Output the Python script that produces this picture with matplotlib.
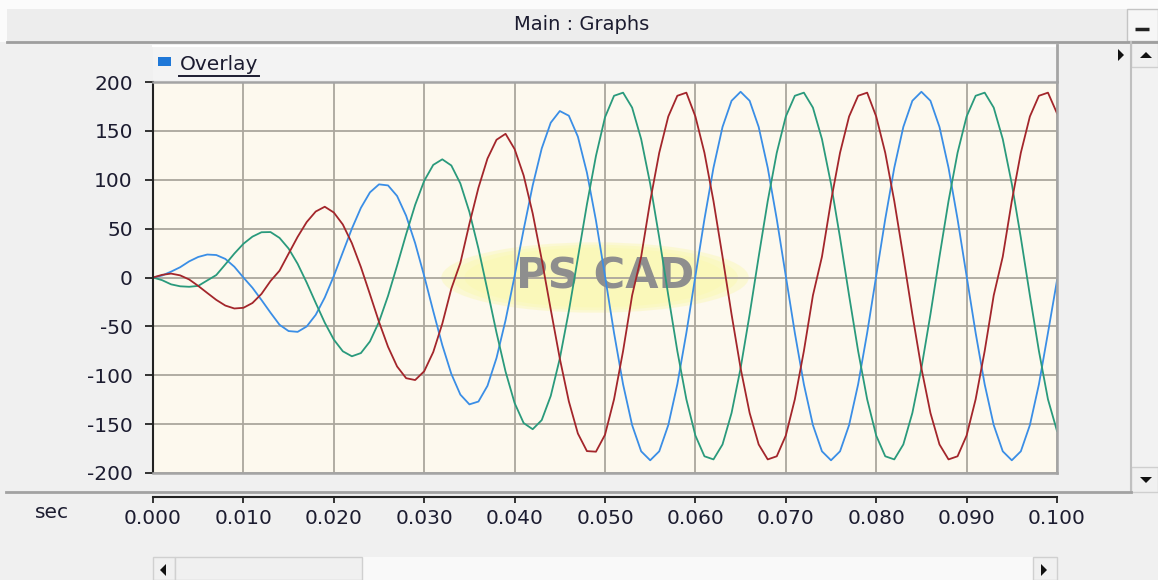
import numpy as np
import matplotlib
matplotlib.use('Agg')
import matplotlib.pyplot as plt
from matplotlib.patches import Rectangle, Ellipse, Polygon

plt.rcParams['axes.unicode_minus'] = False

# sample instants (s), one every 1 ms
t = np.arange(101) * 0.001

# phase voltages (kV)
blue = [0, 2, 6, 10.5, 16.5, 21, 23.5, 23, 19, 11,
        0, -10.5, -23, -36, -48.4, -54.8, -55.6, -50.1, -38.2, -20.5,
        1.5, 25.8, 50.0, 71.3, 87.1, 95.3, 94.2, 83.4, 63.2, 35.1,
        1.5, -34.4, -69.1, -98.6, -119.8, -129.8, -126.9, -110.8, -82.3, -43.7,
        1.5, 49.0, 94.1, 132.0, 158.4, 170.3, 165.5, 144.1, 107.3, 58.3,
        1.5, -56.7, -109.3, -151.0, -177.8, -187.0, -177.8, -151.0, -109.3, -56.7,
        1.5, 59.7, 112.3, 154.0, 180.8, 190.0, 180.8, 154.0, 112.3, 59.7,
        1.5, -56.7, -109.3, -151.0, -177.8, -187.0, -177.8, -151.0, -109.3, -56.7,
        1.5, 59.7, 112.3, 154.0, 180.8, 190.0, 180.8, 154.0, 112.3, 59.7,
        1.5, -56.7, -109.3, -151.0, -177.8, -187.0, -177.8, -151.0, -109.3, -56.7,
        -3]
green = [0, -2.7, -7, -9, -9.5, -8.6, -3, 2.5, 13.4, 24.5,
         34.5, 41.8, 46.3, 46.5, 40.5, 29.6, 14.0, -5.2, -26.0, -46.2,
         -63.5, -75.5, -80.6, -77.3, -65.4, -45.4, -18.8, 12.1, 44.2, 74.3,
         98.9, 115.2, 120.9, 114.6, 96.2, 67.1, 29.6, -13.1, -56.5, -96.3,
         -128.4, -148.9, -155.2, -145.9, -121.1, -82.9, -34.4, 20.0, 74.8, 124.4,
         163.9, 185.9, 189.1, 173.8, 141.6, 95.8, 40.7, -18.3, -75.2, -124.6,
         -161.7, -182.9, -186.1, -170.8, -138.6, -92.8, -37.7, 21.3, 78.2, 127.6,
         164.7, 185.9, 189.1, 173.8, 141.6, 95.8, 40.7, -18.3, -75.2, -124.6,
         -161.7, -182.9, -186.1, -170.8, -138.6, -92.8, -37.7, 21.3, 78.2, 127.6,
         164.7, 185.9, 189.1, 173.8, 141.6, 95.8, 40.7, -18.3, -75.2, -124.6,
         -157]
red = [0, 2.7, 4, 2.2, -2, -8.6, -15.8, -22.9, -28.7, -31.7,
       -31.0, -26.1, -16.8, -3.6, 7.0, 24.4, 41.6, 56.7, 67.5, 72.4,
       66.5, 54.2, 35.1, 10.6, -17.2, -45.4, -70.9, -91.0, -103.0, -104.9,
       -95.9, -76.3, -47.3, -11.5, 14.9, 54.9, 91.8, 121.7, 140.9, 147.0,
       131.4, 104.4, 65.6, 18.4, -32.8, -82.9, -126.7, -159.6, -177.6, -178.2,
       -160.9, -124.6, -75.2, -18.3, 21.3, 78.2, 127.6, 164.7, 185.9, 189.1,
       164.7, 127.6, 78.2, 21.3, -37.7, -92.8, -138.6, -170.8, -186.1, -182.9,
       -161.7, -124.6, -75.2, -18.3, 21.3, 78.2, 127.6, 164.7, 185.9, 189.1,
       164.7, 127.6, 78.2, 21.3, -37.7, -92.8, -138.6, -170.8, -186.1, -182.9,
       -161.7, -124.6, -75.2, -18.3, 21.3, 78.2, 127.6, 164.7, 185.9, 189.1,
       168]

xticks = [0.0, 0.01, 0.02, 0.03, 0.04, 0.05, 0.06, 0.07, 0.08, 0.09, 0.1]
xtick_labels = ['0.000', '0.010', '0.020', '0.030', '0.040', '0.050',
                '0.060', '0.070', '0.080', '0.090', '0.100']
yticks = [-200, -150, -100, -50, 0, 50, 100, 150, 200]

W, H = 1158, 580
TXT = '#1c1c30'
fig = plt.figure(figsize=(W / 100, H / 100), dpi=100)
fig.patch.set_facecolor('#f0f0f0')

# window chrome, drawn in pixel coordinates
bg = fig.add_axes([0, 0, 1, 1], zorder=0)
bg.set_xlim(0, W)
bg.set_ylim(H, 0)
bg.axis('off')


def box(x0, y0, x1, y1, fc, ec='none', lw=0):
    bg.add_patch(Rectangle((x0, y0), x1 - x0, y1 - y0, facecolor=fc,
                           edgecolor=ec, linewidth=lw))


box(0, 0, W, 9, '#fbfbfb')
box(0, 9, 7, 42, '#fbfbfb')
box(7, 9, W, 41, '#ededed')
bg.plot([7, W], [41.5, 41.5], color='#9e9e9e', lw=2)
bg.text(582, 25, 'Main : Graphs', ha='center', va='center', fontsize=14, color=TXT)
box(1127, 9, W, 41, '#f6f6f6', '#c4c4c4', 1)
bg.plot([1135, 1149], [28.5, 28.5], color='#222222', lw=2.5, solid_capstyle='butt')

# overlay header
box(153, 45, 1057, 80, '#f3f3f3')
bg.plot([153, 1057], [45.5, 45.5], color='#ffffff', lw=1.5)
bg.plot([1056.5, 1056.5], [45, 81], color='#a4a4a4', lw=2)
box(158, 57, 171, 66, '#1f78d8')
bg.text(180, 65, 'Overlay', va='center', ha='left', fontsize=14.5, color=TXT)
bg.plot([179, 259], [75.5, 75.5], color=TXT, lw=1.4)
bg.add_patch(Polygon([(1118, 49), (1118, 61), (1124, 55)], closed=True, fc='#111111'))

# vertical scrollbar
box(1131, 42, W, 492, '#f2f2f2')
bg.plot([1130.5, 1130.5], [42, 492], color='#c0c0c0', lw=1.5)
box(1131, 42, W, 67, '#f0f0f0', '#cfcfcf', 1)
box(1131, 467, W, 492, '#f0f0f0', '#cfcfcf', 1)
bg.add_patch(Polygon([(1140, 58), (1152, 58), (1146, 52)], closed=True, fc='#111111'))
bg.add_patch(Polygon([(1140, 477), (1152, 477), (1146, 483)], closed=True, fc='#111111'))

bg.plot([6, 1131], [492, 492], color='#a2a2a2', lw=2)
bg.text(52, 512, 'sec', ha='center', va='center', fontsize=14.5, color=TXT)

# horizontal scrollbar
box(153, 557, 1057, 580, '#f9f9f9')
box(153, 557, 175, 580, '#f0f0f0', '#d0d0d0', 1)
box(175, 557, 362, 580, '#f0f0f0', '#d0d0d0', 1)
box(1033, 557, 1057, 580, '#f0f0f0', '#d0d0d0', 1)
bg.add_patch(Polygon([(166, 564), (166, 576), (160, 570)], closed=True, fc='#111111'))
bg.add_patch(Polygon([(1041, 564), (1041, 576), (1047, 570)], closed=True, fc='#111111'))

# graph
ax = fig.add_axes([153 / W, (H - 473) / H, 904 / W, 391 / H], zorder=2)
ax.set_facecolor('#fdf9ee')
ax.set_xlim(0, 0.1)
ax.set_ylim(-200, 200)
ax.set_xticks(xticks)
ax.set_yticks(yticks)
ax.set_axisbelow(True)
ax.grid(True, color='#aba69d', lw=1.3)
ax.tick_params(axis='x', length=0, labelbottom=False)
ax.tick_params(axis='y', direction='out', length=5.5, width=1.3, color='#222222',
               labelsize=14.5, labelcolor=TXT, pad=9)
ax.spines['left'].set_color('#222222')
ax.spines['left'].set_linewidth(1.5)
for s in ['top', 'right', 'bottom']:
    ax.spines[s].set_color('#a4a4a4')
    ax.spines[s].set_linewidth(1.8)

# PSCAD watermark
for k, a in zip([1.0, 0.93, 0.85], [0.45, 0.5, 0.55]):
    ax.add_patch(Ellipse((0.489, 0.5), 0.34 * k, 0.18 * k, transform=ax.transAxes,
                         facecolor='#faf8b4', edgecolor='none', alpha=a, zorder=0.3))
ax.text(0.5, 0.503, 'PS CAD', transform=ax.transAxes, ha='center', va='center',
        fontsize=31, fontweight='bold', color='#8e8e8e', zorder=0.7)

ax.plot(t, blue, color='#3a8ee6', lw=1.3, zorder=2)
ax.plot(t, green, color='#2a9a7c', lw=1.3, zorder=2)
ax.plot(t, red, color='#a3262b', lw=1.3, zorder=2)

# separate time axis under the graph
axx = fig.add_axes([153 / W, (H - 497) / H, 904 / W, 0.0001], zorder=2)
axx.patch.set_visible(False)
axx.set_xlim(0, 0.1)
axx.set_xticks(xticks)
axx.set_xticklabels(xtick_labels)
axx.set_yticks([])
for s in ['top', 'left', 'right']:
    axx.spines[s].set_visible(False)
axx.spines['bottom'].set_color('#222222')
axx.spines['bottom'].set_linewidth(1.5)
axx.tick_params(axis='x', direction='out', length=4.5, width=1.3, color='#222222',
                labelsize=14.5, labelcolor=TXT, pad=4)

fig.savefig('out.png', dpi=100, facecolor=fig.get_facecolor())
